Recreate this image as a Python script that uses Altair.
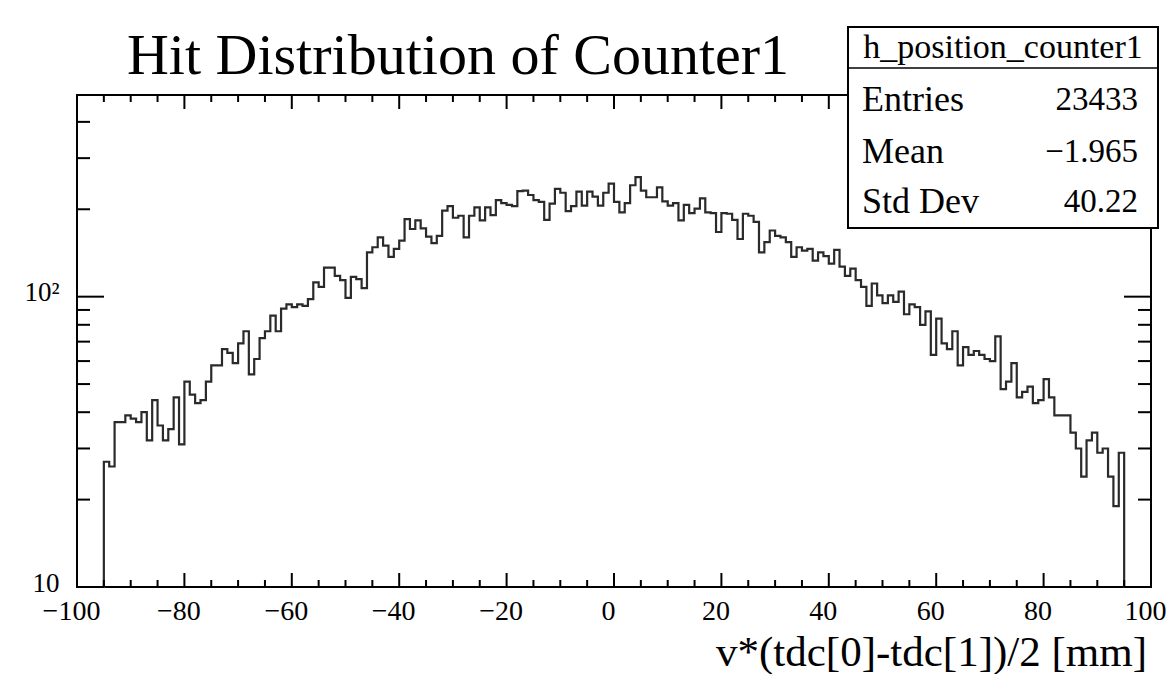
import altair as alt
import pandas as pd
import numpy as np

FONT = "Liberation Serif"

# ---- data (bin width 1 mm, from -95 to 95) ----
bin_start = -95
bin_width = 1
counts = [
    27, 26, 37, 37, 39, 38, 37, 40, 32, 44, 36, 32, 35, 45, 31, 51, 46, 43, 44, 51,
    58, 58, 66, 64, 59, 69, 76, 54, 61, 72, 76, 86, 76, 91, 94, 92, 94, 93, 98, 112,
    108, 126, 126, 118, 114, 99, 117, 115, 107, 142, 148, 160, 150, 137, 146, 156, 185, 171, 183, 172,
    161, 153, 162, 198, 205, 187, 190, 160, 190, 203, 183, 203, 191, 215, 210, 207, 205, 231, 232, 224,
    215, 212, 184, 209, 235, 228, 197, 205, 230, 206, 230, 221, 206, 228, 245, 212, 195, 210, 242, 258,
    232, 220, 220, 238, 213, 206, 210, 183, 207, 194, 201, 218, 195, 194, 167, 194, 193, 184, 158, 193,
    190, 181, 142, 154, 169, 162, 160, 154, 137, 148, 144, 146, 133, 142, 138, 130, 145, 127, 118, 125,
    114, 108, 93, 111, 101, 95, 101, 96, 104, 87, 94, 92, 80, 89, 63, 84, 69, 66, 76, 58,
    67, 63, 65, 63, 61, 60, 73, 48, 51, 59, 45, 47, 49, 43, 44, 52, 45, 39, 39, 39,
    34, 30, 24, 32, 34, 29, 30, 24, 19, 29,
]

x_ticks_major = [-100, -80, -60, -40, -20, 0, 20, 40, 60, 80, 100]
x_ticks_minor = [v for v in range(-100, 101, 5) if v % 20 != 0]
y_ticks_major = [10, 100]
y_ticks_minor = [20, 30, 40, 50, 60, 70, 80, 90, 200, 300, 400]

title_text = "Hit Distribution of Counter1"
x_title = "v*(tdc[0]-tdc[1])/2 [mm]"
stats_name = "h_position_counter1"
stats_labels = ["Entries", "Mean", "Std Dev"]
stats_values = ["23433", "\u22121.965", "40.22"]

x_domain = [-100, 100]
y_domain = [10, 495]

W, H = 1074, 492
PAD_L, PAD_T = 69, 87
OX, OY = 8 + PAD_L, 8 + PAD_T   # page position of the plot's top-left corner

# ---- build step-line table ----
edges = [bin_start + bin_width * i for i in range(len(counts))]
bin_end = bin_start + bin_width * len(counts)
hist = pd.DataFrame({
    "x": [x_domain[0]] + edges + [bin_end, x_domain[1]],
    "y": [y_domain[0]] + counts + [y_domain[0], y_domain[0]],
})

xscale = alt.Scale(domain=x_domain, nice=False, zero=False)
yscale = alt.Scale(type="log", domain=y_domain, nice=False)

line = alt.Chart(hist).mark_line(
    interpolate="step-after", color="#2a2a2a", strokeWidth=2.2
).encode(
    x=alt.X("x:Q", scale=xscale,
            axis=alt.Axis(values=x_ticks_major, ticks=False, domain=False, grid=False,
                          labelFont=FONT, labelFontSize=28, labelColor="black",
                          labelPadding=10, labelFlush=False, labelOverlap=False,
                          labelOffset=-6, title=None)),
    y=alt.Y("y:Q", scale=yscale,
            axis=alt.Axis(values=y_ticks_major, ticks=False, domain=False, grid=False,
                          labelExpr="datum.value == 100 ? '10\u00b2' : '10'",
                          labelFont=FONT, labelFontSize=27, labelColor="black",
                          labelPadding=18, labelFlush=False, labelOverlap=False,
                          labelOffset=-4, title=None)),
)

def xtick_layer(vals, length):
    df = pd.DataFrame({"x": vals})
    base = alt.Chart(df).mark_rule(color="black", strokeWidth=2)
    bottom = base.encode(x=alt.X("x:Q", scale=xscale),
                         y=alt.value(H), y2=alt.value(H - length))
    top = base.encode(x=alt.X("x:Q", scale=xscale),
                      y=alt.value(0), y2=alt.value(length))
    return [bottom, top]

def ytick_layer(vals, length):
    df = pd.DataFrame({"y": vals})
    base = alt.Chart(df).mark_rule(color="black", strokeWidth=2)
    left = base.encode(y=alt.Y("y:Q", scale=yscale),
                       x=alt.value(0), x2=alt.value(length))
    right = base.encode(y=alt.Y("y:Q", scale=yscale),
                        x=alt.value(W), x2=alt.value(W - length))
    return [left, right]

ticks = (xtick_layer(x_ticks_major, 14) + xtick_layer(x_ticks_minor, 7)
         + ytick_layer(y_ticks_major, 27) + ytick_layer(y_ticks_minor, 13))

one = pd.DataFrame({"t": [title_text]})
title = alt.Chart(one).mark_text(
    font=FONT, fontSize=58, color="black", align="center", baseline="alphabetic"
).encode(text="t:N", x=alt.value(458 - OX), y=alt.value(74 - OY))

xt = alt.Chart(pd.DataFrame({"t": [x_title]})).mark_text(
    font=FONT, fontSize=43, color="black", align="right", baseline="alphabetic"
).encode(text="t:N", x=alt.value(1147 - OX), y=alt.value(666 - OY))

# stats box (page coords 848..1158 x 27..228)
bx0, bx1 = 848 - OX, 1158 - OX
by0, by1 = 27 - OY, 228 - OY
box = alt.Chart(one).mark_rect(fill="white", stroke="black", strokeWidth=2).encode(
    x=alt.value(bx0), x2=alt.value(bx1), y=alt.value(by0), y2=alt.value(by1))
sep = alt.Chart(one).mark_rule(color="black", strokeWidth=1.5).encode(
    x=alt.value(bx0), x2=alt.value(bx1), y=alt.value(68 - OY))
head = alt.Chart(pd.DataFrame({"t": [stats_name]})).mark_text(
    font=FONT, fontSize=34, color="black", align="center", baseline="middle"
).encode(text="t:N", x=alt.value((bx0 + bx1) / 2), y=alt.value(48 - OY))

stat_layers = []
row_y = [100, 152, 202]
for lab, val, yy in zip(stats_labels, stats_values, row_y):
    stat_layers.append(alt.Chart(pd.DataFrame({"t": [lab]})).mark_text(
        font=FONT, fontSize=36, color="black", align="left", baseline="middle"
    ).encode(text="t:N", x=alt.value(bx0 + 14), y=alt.value(yy - OY)))
    stat_layers.append(alt.Chart(pd.DataFrame({"t": [val]})).mark_text(
        font=FONT, fontSize=33, color="black", align="right", baseline="middle"
    ).encode(text="t:N", x=alt.value(bx1 - 20), y=alt.value(yy - OY)))

chart = alt.layer(line, *ticks, title, xt, box, sep, head, *stat_layers).properties(
    width=W, height=H,
    autosize=alt.AutoSizeParams(type="none"),
    padding={"left": PAD_L, "top": PAD_T, "right": 1176 - 16 - PAD_L - W, "bottom": 87},
).configure(background="white").configure_view(stroke="black", strokeWidth=2)

chart.save("out.html", embed_options={"renderer": "svg", "actions": False})
